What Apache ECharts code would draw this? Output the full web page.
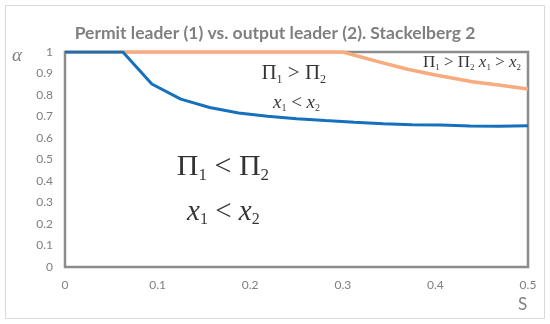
<!DOCTYPE html>
<html><head><meta charset="utf-8">
<script src="https://cdn.jsdelivr.net/npm/echarts@6/dist/echarts.min.js"></script>
<style>html,body{margin:0;padding:0;background:#fff}#c{width:550px;height:324px}</style>
</head><body><div id="c"></div>
<script>
const titleText = 'Permit leader (1) vs. output leader (2). Stackelberg 2';
const xTicks = [0, 0.1, 0.2, 0.3, 0.4, 0.5];
const yTicks = [0, 0.1, 0.2, 0.3, 0.4, 0.5, 0.6, 0.7, 0.8, 0.9, 1];
const blueS = [0, 0.03125, 0.0625, 0.09375, 0.125, 0.15625, 0.1875, 0.21875, 0.25, 0.28125, 0.3125, 0.34375, 0.375, 0.40625, 0.4375, 0.46875, 0.5];
const blueAlpha = [1, 1, 1, 0.851, 0.781, 0.742, 0.716, 0.701, 0.69, 0.681, 0.673, 0.666, 0.662, 0.66, 0.656, 0.655, 0.657];
const orangeS = [0, 0.1, 0.2, 0.3, 0.34, 0.37, 0.4, 0.44, 0.47, 0.5];
const orangeAlpha = [1, 1, 1, 1, 0.953, 0.92, 0.893, 0.862, 0.845, 0.828];
// annotation anchors (data coords) and texts
const annotations = [
  {s: 0.247, a: 0.9, text: '{P|Π}{s|1}{P| > Π}{s|2}', size: 21},
  {s: 0.25, a: 0.763, text: '{X|x}{s|1}{P| < }{X|x}{s|2}', size: 19},
  {s: 0.1706, a: 0.465, text: '{P|Π}{s|1}{P| < Π}{s|2}', size: 30},
  {s: 0.171, a: 0.256, text: '{X|x}{s|1}{P| < }{X|x}{s|2}', size: 29},
  {s: 0.4395, a: 0.949, text: '{P|Π}{s|1}{P| > Π}{s|2}{P| }{X|x}{s|1}{P| > }{X|x}{s|2}', size: 17}
];
const chart = echarts.init(document.getElementById('c'), null, {renderer: 'canvas'});
function rich(size) {
  const sub = Math.round(size * 0.55);
  return {
    P: {fontFamily: 'Liberation Serif', fontSize: size, color: '#000'},
    X: {fontFamily: 'Liberation Serif', fontStyle: 'italic', fontSize: size, color: '#000'},
    s: {fontFamily: 'Liberation Serif', fontSize: sub, color: '#000', padding: [Math.round(size * 0.55), 0, 0, 0]}
  };
}
const annoSeries = annotations.map((an, i) => ({
  type: 'scatter', symbolSize: 0, z: 5, silent: true,
  data: [[an.s, an.a]],
  label: {show: true, position: 'inside', formatter: an.text, rich: rich(an.size)}
}));
chart.setOption({
  animation: false,
  backgroundColor: '#fff',
  title: {text: titleText, left: 'center', top: 19,
    textStyle: {fontFamily: 'Lato', fontWeight: 'bold', fontSize: 17.5, color: '#7f7f7f'}},
  grid: {left: 65, right: 22, top: 52, bottom: 57, show: true, borderColor: '#8c8c8c', borderWidth: 2.5, backgroundColor: 'transparent'},
  xAxis: {type: 'value', min: 0, max: 0.5, interval: 0.1,
    axisLine: {show: false}, axisTick: {show: false}, splitLine: {show: false},
    axisLabel: {margin: 12, color: '#7f7f7f', fontFamily: 'Lato', fontSize: 12, formatter: v => String(+v.toFixed(1))}},
  yAxis: {type: 'value', min: 0, max: 1, interval: 0.1,
    axisLine: {show: false}, axisTick: {show: false}, splitLine: {show: false},
    axisLabel: {margin: 12, color: '#7f7f7f', fontFamily: 'Lato', fontSize: 12, formatter: v => String(+v.toFixed(1))}},
  graphic: [
    {type: 'rect', shape: {x: 5.5, y: 5.5, width: 539, height: 313}, style: {fill: 'none', stroke: '#d9d9d9', lineWidth: 1}},
    {type: 'text', left: 12, top: 46, style: {text: 'α', font: 'italic 19px "Liberation Serif"', fill: '#7f7f7f'}},
    {type: 'text', left: 518, top: 296, style: {text: 'S', font: '17px Lato', fill: '#7f7f7f'}}
  ],
  series: [
    {type: 'line', data: orangeS.map((s, i) => [s, orangeAlpha[i]]), showSymbol: false, z: 3,
      lineStyle: {color: '#f8ab7c', width: 3.5}},
    {type: 'line', data: blueS.map((s, i) => [s, blueAlpha[i]]), showSymbol: false, z: 4,
      lineStyle: {color: '#1570bd', width: 3}}
  ].concat(annoSeries)
});
</script></body></html>
